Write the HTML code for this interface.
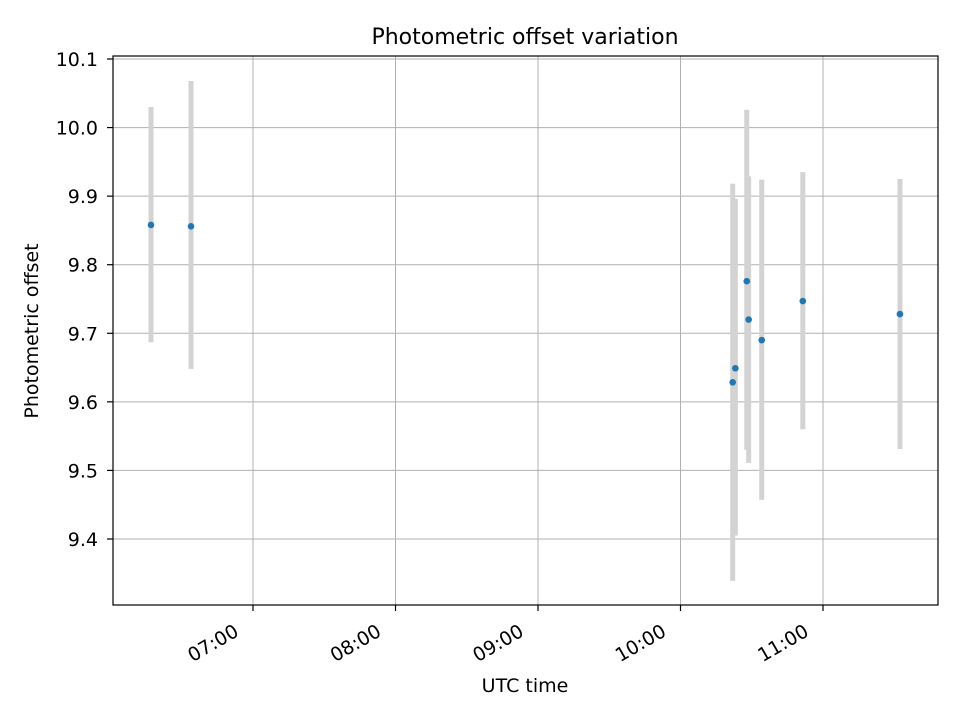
<!DOCTYPE html>
<html><head><meta charset="utf-8"><style>
body{margin:0;background:#fff;}
svg text{font-family:"DejaVu Sans","Liberation Sans",sans-serif;fill:#000;}
</style></head><body>
<svg id="chart" width="960" height="720" xmlns="http://www.w3.org/2000/svg">
<rect width="960" height="720" fill="#fff"/>
<g id="grid"></g><g id="bars"></g><g id="pts"></g><g id="axes"></g>
</svg>
<script>
const timesMin=[377.05,393.9,621.98,623.1,627.9,628.7,634.2,651.5,692.4];
const values=[9.858,9.856,9.6285,9.649,9.776,9.720,9.690,9.747,9.728];
const errLow=[9.687,9.648,9.339,9.405,9.530,9.511,9.457,9.560,9.531];
const errHigh=[10.030,10.068,9.918,9.896,10.026,9.929,9.924,9.935,9.925];
const yTicks=[9.4,9.5,9.6,9.7,9.8,9.9,10.0,10.1];
const yTickLabels=["9.4","9.5","9.6","9.7","9.8","9.9","10.0","10.1"];
const xTicksMin=[420,480,540,600,660];
const xTickLabels=["07:00","08:00","09:00","10:00","11:00"];
const L=113,R=938,T=56,B=605;
const X=m=>253+(m-420)/60*142.5;
const Y=v=>59+(10.1-v)*685.7;
const NS="http://www.w3.org/2000/svg";
function mk(tag,attrs,parent){const e=document.createElementNS(NS,tag);for(const k in attrs)e.setAttribute(k,attrs[k]);document.getElementById(parent).appendChild(e);return e;}
yTicks.forEach((v,i)=>{
 const g=mk('line',{x1:L,x2:R,y1:Y(v),y2:Y(v),stroke:'#b0b0b0','stroke-width':1},'grid');
 
 mk('line',{x1:L-6,x2:L,y1:Y(v),y2:Y(v),stroke:'#000','stroke-width':1.2},'axes');
 const t=mk('text',{x:L-15,y:Y(v)+7,'text-anchor':'end','font-size':19},'axes');t.textContent=yTickLabels[i];
 
});
xTicksMin.forEach((m,i)=>{
 const g=mk('line',{x1:X(m),x2:X(m),y1:T,y2:B,stroke:'#b0b0b0','stroke-width':1},'grid');
 
 mk('line',{x1:X(m),x2:X(m),y1:B,y2:B+6,stroke:'#000','stroke-width':1.2},'axes');
 const tx=X(m)-13,ty=B+30;
 const t=mk('text',{x:tx,y:ty,'text-anchor':'end','font-size':19,transform:`rotate(-30 ${tx} ${ty})`},'axes');t.textContent=xTickLabels[i];
 
});
timesMin.forEach((m,i)=>{
 const b=mk('line',{x1:X(m),x2:X(m),y1:Y(errHigh[i]),y2:Y(errLow[i]),stroke:'#d3d3d3','stroke-width':5},'bars');
 
 const c=mk('circle',{cx:X(m),cy:Y(values[i]),r:3.3,fill:'#1f77b4'},'pts');
 
});
const f=mk('rect',{x:L,y:T,width:R-L,height:B-T,fill:'none',stroke:'#000','stroke-width':1.2},'axes');

let t=mk('text',{x:525,y:44,'text-anchor':'middle','font-size':22},'axes');t.textContent='Photometric offset variation';

t=mk('text',{x:525,y:692,'text-anchor':'middle','font-size':19},'axes');t.textContent='UTC time';

t=mk('text',{x:38,y:331,'text-anchor':'middle','font-size':19,transform:'rotate(-90 38 331)'},'axes');t.textContent='Photometric offset';

</script>
</body></html>
